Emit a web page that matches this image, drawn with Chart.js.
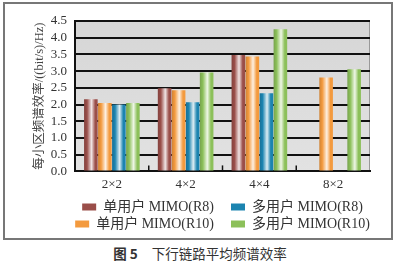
<!DOCTYPE html>
<html>
<head>
<meta charset="utf-8">
<script src="https://cdn.jsdelivr.net/npm/chart.js@4/dist/chart.umd.min.js"></script>
<style>
  html, body { margin: 0; padding: 0; background: #fff; }
  body { width: 400px; height: 264px; position: relative; overflow: hidden; }
  #frame {
    position: absolute; left: 3px; top: 2px; width: 390px; height: 238px;
    box-sizing: border-box; border: 2px solid #777;
  }
  #caption {
    position: absolute; left: 0; top: 243px; width: 400px; text-align: center;
    font-family: "Noto Sans CJK SC", sans-serif; font-size: 13.5px; color: #333;
  }
  #caption b { margin-right: 14px; }
</style>
</head>
<body>
<div id="frame"><canvas id="myChart"></canvas></div>
<div id="caption"><b>图 5</b>下行链路平均频谱效率</div>
<script>
const categories = ['2×2', '4×2', '4×4', '8×2'];
const singleUserR8 = [2.16, 2.49, 3.48, null];
const singleUserR10 = [2.05, 2.43, 3.44, 2.81];
const multiUserR8 = [2.0, 2.07, 2.34, null];
const multiUserR10 = [2.05, 2.96, 4.25, 3.06];
const yTicks = [0, 0.5, 1.0, 1.5, 2.0, 2.5, 3.0, 3.5, 4.0, 4.5];

const serif = '"Liberation Serif", "Noto Sans CJK SC", serif';
const legendOrder = [0, 2, 1, 3];

function lighten(hex, amt) {
  const n = parseInt(hex.slice(1), 16);
  const mix = (c) => Math.round(c + (255 - c) * amt);
  return `rgb(${mix(n >> 16)}, ${mix((n >> 8) & 255)}, ${mix(n & 255)})`;
}
function darken(hex, amt) {
  const n = parseInt(hex.slice(1), 16);
  const mix = (c) => Math.round(c * (1 - amt));
  return `rgb(${mix(n >> 16)}, ${mix((n >> 8) & 255)}, ${mix(n & 255)})`;
}

// cylinder-like shading on every bar
const barShade = {
  id: 'barShade',
  beforeDatasetsDraw(chart) {
    const ctx = chart.ctx;
    chart.data.datasets.forEach((ds, i) => {
      const meta = chart.getDatasetMeta(i);
      meta.data.forEach((el) => {
        if (!isFinite(el.x) || !isFinite(el.y) || !isFinite(el.width)) return;
        const x0 = el.x - el.width / 2;
        const g = ctx.createLinearGradient(x0, 0, x0 + el.width, 0);
        const c = ds.baseColor;
        g.addColorStop(0, darken(c, 0.15));
        g.addColorStop(0.22, c);
        g.addColorStop(0.55, lighten(c, 0.85));
        g.addColorStop(0.82, c);
        g.addColorStop(1, c);
        el.options = Object.assign({}, el.options, { backgroundColor: g });
      });
    });
  },
};

// grey plot background, right edge, small inner ticks between categories
const plotDecor = {
  id: 'plotDecor',
  afterLayout(chart) {
    // centre the legend under the plot area rather than the whole canvas
    const lg = chart.legend;
    const shift = (chart.chartArea.left + chart.chartArea.right) / 2 - (lg.left + lg.right) / 2;
    lg.left += shift;
    lg.right += shift;
  },
  beforeDraw(chart) {
    const { ctx, chartArea: a } = chart;
    const g = ctx.createLinearGradient(0, a.top, 0, a.bottom);
    g.addColorStop(0, '#d6d6d6');
    g.addColorStop(1, '#e2e2e2');
    ctx.save();
    ctx.fillStyle = g;
    ctx.fillRect(a.left, a.top, a.right - a.left, a.bottom - a.top);
    ctx.strokeStyle = '#999';
    ctx.lineWidth = 1;
    ctx.beginPath();
    ctx.moveTo(a.right - 0.5, a.top);
    ctx.lineTo(a.right - 0.5, a.bottom);
    ctx.stroke();
    ctx.restore();
  },
  afterDatasetsDraw(chart) {
    const { ctx, chartArea: a, scales } = chart;
    const x = scales.x;
    ctx.save();
    ctx.strokeStyle = '#111';
    ctx.lineWidth = 1.5;
    for (let i = 0; i < categories.length - 1; i++) {
      const px = (x.getPixelForValue(i) + x.getPixelForValue(i + 1)) / 2;
      ctx.beginPath();
      ctx.moveTo(px, a.bottom);
      ctx.lineTo(px, a.bottom - 6);
      ctx.stroke();
    }
    ctx.restore();
  },
};

const data = {
  labels: categories,
  datasets: [
    { label: '单用户 MIMO(R8)', data: singleUserR8, baseColor: '#9a4e49', backgroundColor: '#9a4e49' },
    { label: '单用户 MIMO(R10)', data: singleUserR10, baseColor: '#f39a3e', backgroundColor: '#f39a3e' },
    { label: '多用户 MIMO(R8)', data: multiUserR8, baseColor: '#1c84b0', backgroundColor: '#1c84b0' },
    { label: '多用户 MIMO(R10)', data: multiUserR10, baseColor: '#8cc05a', backgroundColor: '#8cc05a' },
  ],
};

const config = {
  type: 'bar',
  data: data,
  plugins: [plotDecor, barShade],
  options: {
    responsive: true,
    maintainAspectRatio: false,
    animation: false,
    layout: { padding: { top: 17, right: 21, left: 0, bottom: -3 } },
    datasets: {
      bar: { categoryPercentage: 0.76, barPercentage: 0.97, borderWidth: 0 },
    },
    plugins: {
      tooltip: { enabled: false },
      legend: {
        position: 'bottom',
        labels: {
          boxWidth: 14,
          boxHeight: 7,
          padding: 3,
          color: '#333',
          font: { family: serif, size: 14 },
          // R8 on the first row, R10 on the second, with a wider gap after the first column
          generateLabels: (chart) => {
            const items = Chart.defaults.plugins.legend.labels.generateLabels(chart);
            items.sort((a, b) => legendOrder.indexOf(a.datasetIndex) - legendOrder.indexOf(b.datasetIndex));
            items.forEach((it, k) => { if (k % 2 === 0) it.text += '\u2002\u2002'; });
            return items;
          },
        },
      },
    },
    scales: {
      x: {
        grid: { display: false, drawTicks: false },
        border: { color: '#111', width: 2 },
        ticks: { color: '#333', padding: 5, font: { family: serif, size: 13 } },
      },
      y: {
        min: 0,
        max: 4.5,
        afterFit: (scale) => { scale.width = 70; },
        afterBuildTicks: (scale) => { scale.ticks = yTicks.map((v) => ({ value: v })); },
        grid: { color: '#111', lineWidth: 2, drawTicks: false },
        border: { color: '#111', width: 2 },
        ticks: {
          autoSkip: false,
          color: '#333',
          padding: 8,
          font: { family: serif, size: 13 },
          callback: (v) => Number(v).toFixed(1),
        },
        title: {
          display: true,
          text: '每小区频谱效率/((bit/s)/Hz)',
          color: '#444',
          font: { family: serif, size: 12.5 },
          padding: { top: 27, bottom: 0 },
        },
      },
    },
  },
};

const myChart = new Chart(document.getElementById('myChart'), config);
</script>
</body>
</html>
